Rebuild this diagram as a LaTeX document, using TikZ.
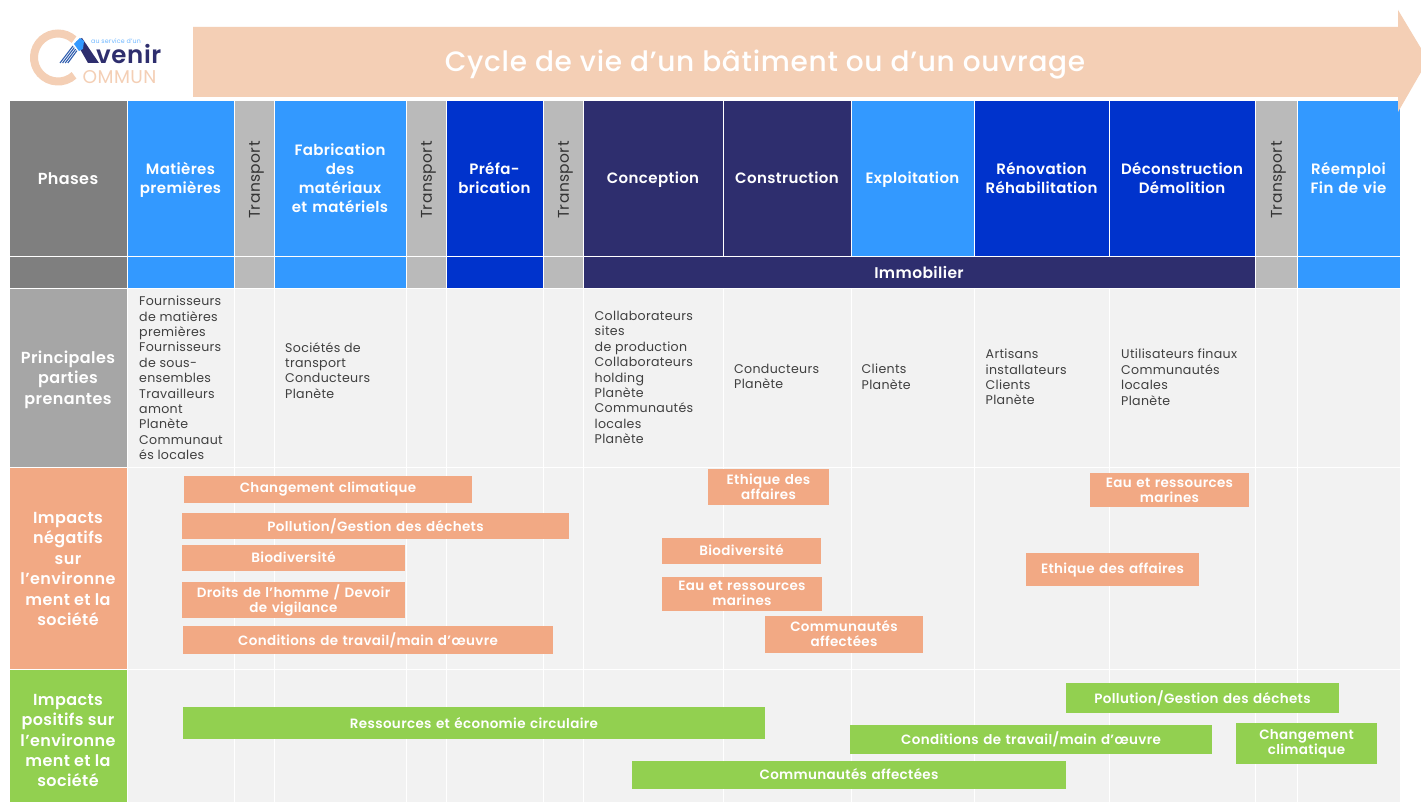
\documentclass[tikz,border=0pt]{standalone}
\usepackage{fontspec}
\setmainfont[LetterSpace=2.5,BoldFont={Poppins SemiBold}]{Poppins}
\newfontfamily\titlefont[LetterSpace=2.5]{Poppins Medium}
\definecolor{gd}{HTML}{7F7F7F}
\definecolor{gm}{HTML}{A6A6A6}
\definecolor{gt}{HTML}{BABABA}
\definecolor{bl}{HTML}{3399FF}
\definecolor{bd}{HTML}{0033CC}
\definecolor{nv}{HTML}{2E2E6E}
\definecolor{pe}{HTML}{F4CFB5}
\definecolor{or}{HTML}{F2A984}
\definecolor{gr}{HTML}{92D050}
\definecolor{bgc}{HTML}{F2F2F2}
\definecolor{tx}{HTML}{404040}
\tikzset{
 cellbox/.style={draw=white,line width=0.8pt,inner sep=1pt,align=center,text=white,font=\fontsize{15}{19}\selectfont\bfseries},
 sidebox/.style={cellbox,font=\fontsize{16}{20.4}\selectfont\bfseries},
 sidetxt/.style={text=white,align=center,font=\fontsize{16}{20.4}\selectfont\bfseries},
 headtxt/.style={text=white,align=center,font=\fontsize{15}{19}\selectfont\bfseries},
 tr/.style={cellbox,fill=gt},
 bandbox/.style={inner sep=1pt,align=center,text=white,font=\fontsize{13.5}{15}\selectfont\bfseries},
 bodytxt/.style={anchor=north west,inner sep=0pt,align=left,text=tx,font=\fontsize{12.6}{15.4}\selectfont},
}
% #1 name, #2 x0, #3 x1, #4 y0, #5 y1, #6 style, #7 text
\newcommand\cellat[7]{%
 \pgfmathsetmacro\cw{#3-#2}\pgfmathsetmacro\ch{#5-#4}%
 \pgfmathsetmacro\cx{(#2+#3)/2}\pgfmathsetmacro\cy{(#4+#5)/2}%
 \node[#6,minimum width=\cw pt,minimum height=\ch pt,text width=\cw pt-2pt] (#1) at (\cx,\cy) {#7};}
\begin{document}
\begin{tikzpicture}[x=1pt,y=-1pt]
\useasboundingbox (0,0) rectangle (1421,802);
\clip (0,0) rectangle (1421,802);
\fill[white] (0,0) rectangle (1421,802);
% body columns
\foreach \a/\b [count=\i] in {127/234,234/274,274/406,406/446,446/543,543/583,583/723,723/851,851/974,974/1109,1109/1255,1255/1297,1297/1400}{
 \foreach \u/\v in {288/467,467/669,669/802}{
  \fill[bgc,draw=white,line width=0.6pt] (\a,\u) rectangle (\b,\v);
 }
}
% row labels
\cellat{phases}{9}{127}{100}{256}{sidebox,fill=gd}{}
\node[sidetxt] (phasest) at ([yshift=-1pt]phases.center) {Phases};
\cellat{phasesb}{9}{127}{256}{288}{sidebox,fill=gd}{}
\cellat{parties}{9}{127}{288}{467}{sidebox,fill=gm}{}
\node[sidetxt] (partiest) at ([yshift=-2pt]parties.center) {Principales\\parties\\prenantes};
\cellat{neg}{9}{127}{467}{669}{sidebox,fill=or}{}
\node[sidetxt] (negt) at ([yshift=-1pt]neg.center) {Impacts\\négatifs\\sur\\l’environne\\ment et la\\société};
\cellat{pos}{9}{127}{669}{802}{sidebox,fill=gr}{}
\node[sidetxt] (post) at ([yshift=-5pt]pos.center) {Impacts\\positifs sur\\l’environne\\ment et la\\société};
% header
\cellat{c1}{127}{234}{100}{256}{cellbox,fill=bl}{}
\node[headtxt] (c1t) at ([yshift=-1.5pt]c1.center) {Matières\\premières};
\cellat{t1}{234}{274}{100}{256}{tr}{}
\cellat{c2}{274}{406}{100}{256}{cellbox,fill=bl}{Fabrication\\des\\matériaux\\et matériels}
\cellat{t2}{406}{446}{100}{256}{tr}{}
\cellat{c3}{446}{543}{100}{256}{cellbox,fill=bd}{Préfa-\\brication}
\cellat{t3}{543}{583}{100}{256}{tr}{}
\cellat{c4}{583}{723}{100}{256}{cellbox,fill=nv}{}
\node[headtxt] (c4t) at ([yshift=-1.5pt]c4.center) {Conception};
\cellat{c5}{723}{851}{100}{256}{cellbox,fill=nv}{Construction}
\cellat{c6}{851}{974}{100}{256}{cellbox,fill=bl}{}
\node[headtxt] (c6t) at ([yshift=-1.5pt]c6.center) {Exploitation};
\cellat{c7}{974}{1109}{100}{256}{cellbox,fill=bd}{Rénovation\\Réhabilitation}
\cellat{c8}{1109}{1255}{100}{256}{cellbox,fill=bd}{Déconstruction\\Démolition}
\cellat{t4}{1255}{1297}{100}{256}{tr}{}
\cellat{c9}{1297}{1400}{100}{256}{cellbox,fill=bl}{Réemploi\\Fin de vie}
\foreach \n in {t1,t2,t3,t4}{
 \node[rotate=90,text=black!80,font=\fontsize{15.5}{18}\selectfont] (l\n) at ([shift={(2.5,2)}]\n.center) {Transport};
}
% second row
\cellat{r1}{127}{234}{256}{288}{cellbox,fill=bl}{}
\cellat{r2}{234}{274}{256}{288}{tr}{}
\cellat{r3}{274}{406}{256}{288}{cellbox,fill=bl}{}
\cellat{r4}{406}{446}{256}{288}{tr}{}
\cellat{r5}{446}{543}{256}{288}{cellbox,fill=bd}{}
\cellat{r6}{543}{583}{256}{288}{tr}{}
\cellat{immo}{583}{1255}{256}{288}{cellbox,fill=nv,font=\fontsize{15.5}{18}\selectfont\bfseries}{Immobilier}
\cellat{r8}{1255}{1297}{256}{288}{tr}{}
\cellat{r9}{1297}{1400}{256}{288}{cellbox,fill=bl}{}
% stakeholders
\node[bodytxt] (p1) at (139,296) {Fournisseurs\\de matières\\premières\\Fournisseurs\\de sous-\\ensembles\\Travailleurs\\amont\\Planète\\Communaut\\és locales};
\node[bodytxt] (p2) at (285,342) {Sociétés de\\transport\\Conducteurs\\Planète};
\node[bodytxt] (p3) at (594.5,311) {Collaborateurs\\sites\\de production\\Collaborateurs\\holding\\Planète\\Communautés\\locales\\Planète};
\node[bodytxt] (p4) at (734,364) {Conducteurs\\Planète};
\node[bodytxt] (p5) at (861.5,364) {Clients\\Planète};
\node[bodytxt] (p6) at (985.5,349) {Artisans\\installateurs\\Clients\\Planète};
\node[bodytxt] (p7) at (1121,349) {Utilisateurs finaux\\Communautés\\locales\\Planète};
% negative
\cellat{n1}{184}{472}{476}{503}{bandbox,fill=or}{\raisebox{-1pt}{Changement climatique}}
\cellat{n2}{182}{569}{513}{539}{bandbox,fill=or}{\raisebox{1.5pt}{Pollution/Gestion des déchets}}
\cellat{n3}{182}{405}{545}{571}{bandbox,fill=or}{\raisebox{1pt}{Biodiversité}}
\cellat{n4}{182}{405}{582}{618}{bandbox,fill=or}{\raisebox{2pt}{Droits de l’homme / Devoir}\\\raisebox{2pt}{de vigilance}}
\cellat{n5}{183}{553}{626}{654}{bandbox,fill=or}{\raisebox{1pt}{Conditions de travail/main d’œuvre}}
\cellat{n6}{708}{829}{469}{505}{bandbox,fill=or}{\raisebox{1pt}{Ethique des}\\\raisebox{1pt}{affaires}}
\cellat{n7}{662}{821}{538}{564}{bandbox,fill=or}{\raisebox{1pt}{Biodiversité}}
\cellat{n8}{662}{822}{577}{611}{bandbox,fill=or}{\raisebox{1pt}{Eau et ressources}\\\raisebox{1pt}{marines}}
\cellat{n9}{765}{923}{616}{653}{bandbox,fill=or}{\raisebox{1pt}{Communautés}\\\raisebox{1pt}{affectées}}
\cellat{n10}{1090}{1249}{473}{507}{bandbox,fill=or}{Eau et ressources\\marines}
\cellat{n11}{1026}{1199}{553}{586}{bandbox,fill=or}{\raisebox{-2pt}{Ethique des affaires}}
% positive
\cellat{g1}{183}{765}{707}{739}{bandbox,fill=gr}{\raisebox{1pt}{Ressources et économie circulaire}}
\cellat{g2}{1066}{1339}{683}{713}{bandbox,fill=gr}{\raisebox{1pt}{Pollution/Gestion des déchets}}
\cellat{g3}{850}{1212}{725}{754}{bandbox,fill=gr}{\raisebox{1pt}{Conditions de travail/main d’œuvre}}
\cellat{g4}{1236}{1377}{723}{764}{bandbox,fill=gr}{Changement\\climatique}
\cellat{g5}{632}{1066}{761}{789}{bandbox,fill=gr}{\raisebox{2pt}{Communautés affectées}}
% arrow
\fill[pe] (193,27) -- (1398,27) -- (1398,10) -- (1428,60) -- (1398,112) -- (1398,97) -- (193,97) -- cycle;
\node[text=white,font=\fontsize{28}{32}\selectfont\titlefont] (title) at (765,65) {Cycle de vie d’un bâtiment ou d’un ouvrage};
% logo
\draw[pe,line width=8pt] (58,57.5) ++(48:24) arc (48:312:24);
\fill[nv] (76,42) -- (82,38) -- (99,63) -- (88,63) -- cycle;
\fill[bl] (74,44) -- (80,38) -- (84,41) -- (83,49) -- (79,51) -- cycle;
\foreach \d in {0,2.6,5.2,7.8}{
 \draw[nv!55!bl,line width=1.1pt] (60+\d,63) -- (73+\d*0.5,46+\d*0.6);
}
\node[anchor=west,inner sep=0pt,text=nv,font=\fontsize{24.5}{26}\selectfont\bfseries] (lv) at (96,54.5) {venir};
\node[anchor=west,inner sep=0pt,text=bl!70,font=\fontsize{6.3}{7}\selectfont] (ls) at (91,41) {au service d’un};
\node[anchor=west,inner sep=0pt,text=pe,font=\fontsize{18.5}{20}\selectfont] (lc) at (82.5,77) {OMMUN};
\end{tikzpicture}
\end{document}
